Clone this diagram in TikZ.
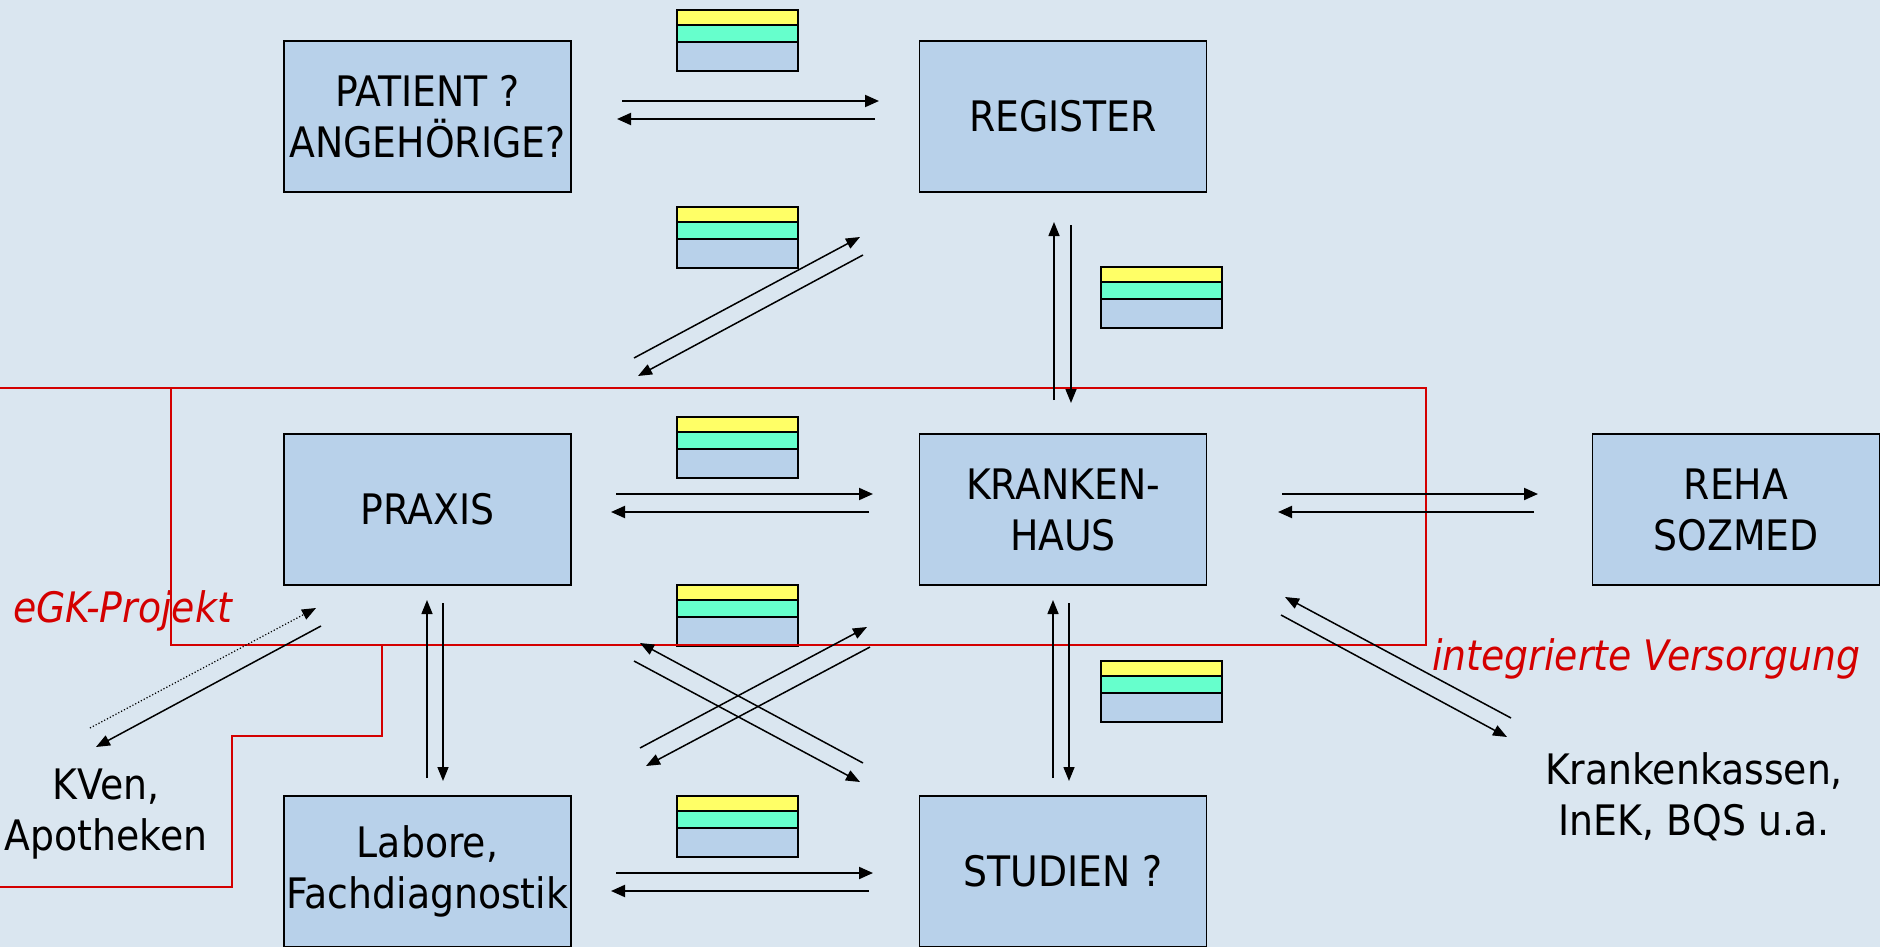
\documentclass[tikz,border=0pt]{standalone}
\usepackage{fontspec}
\setmainfont{DejaVu Sans Condensed}
\usetikzlibrary{arrows.meta}
\definecolor{bg}{HTML}{DAE6F0}
\definecolor{boxfill}{HTML}{B8D1EA}
\definecolor{yel}{HTML}{FFFF66}
\definecolor{grn}{HTML}{66FFCC}
\definecolor{redline}{HTML}{D40000}
\tikzset{
  entity/.style={draw=black,line width=1.5pt,fill=boxfill,minimum width=287pt,minimum height=151pt,inner sep=0pt,align=center,font=\fontsize{42}{51}\selectfont},
  plainlabel/.style={align=center,inner sep=0pt,font=\fontsize{42}{51}\selectfont},
  redlabel/.style={text=redline,inner sep=0pt,font=\fontsize{42}{51}\selectfont\itshape},
  arr/.style={line width=2pt,-{Triangle[length=14pt,width=12pt]}},
  darr/.style={line width=1.5pt,-{Triangle[length=14pt,width=11pt]}},
  dotarr/.style={line width=1.2pt,dotted,-{Triangle[length=14pt,width=11pt]}},
  redpath/.style={draw=redline,line width=2pt},
  datastack/.pic={
    \filldraw[fill=yel,draw=black,line width=2pt] (0,0) rectangle (121,15);
    \filldraw[fill=grn,draw=black,line width=2pt] (0,15) rectangle (121,32);
    \filldraw[fill=boxfill,draw=black,line width=2pt] (0,32) rectangle (121,61);
  }
}
\begin{document}
\begin{tikzpicture}[x=1pt,y=-1pt]
\useasboundingbox (0,0) rectangle (1880,947);
\fill[bg] (0,0) rectangle (1880,947);

% entities
\node[entity] (pat) at (427.5,116.5) {PATIENT ?\\ANGEHÖRIGE?};
\node[entity] (reg) at (1063,116.5) {REGISTER};
\node[entity] (pra) at (427.5,509.5) {PRAXIS};
\node[entity] (kh) at (1063,509.5) {KRANKEN-\\HAUS};
\node[entity] (reha) at (1736,509.5) {REHA\\SOZMED};
\node[entity] (lab) at (427.5,871.5) {Labore,\\Fachdiagnostik};
\node[entity] (stu) at (1063,871.5) {STUDIEN ?};

% data stacks
\pic at (677,10) {datastack};
\pic at (677,207) {datastack};
\pic at (677,417) {datastack};
\pic at (677,585) {datastack};
\pic at (677,796) {datastack};
\pic at (1101,267) {datastack};
\pic at (1101,661) {datastack};

% red boundaries
\draw[redpath] (0,388) -- (1426,388) -- (1426,645) -- (171,645) -- (171,388);
\draw[redpath] (382,645) -- (382,736) -- (232,736) -- (232,887) -- (0,887);

% connector end points
\coordinate (pr1s) at (622,101); \coordinate (pr1e) at (879,101);
\coordinate (pr2s) at (875,119); \coordinate (pr2e) at (617,119);
\coordinate (pk1s) at (616,494); \coordinate (pk1e) at (873,494);
\coordinate (pk2s) at (869,512); \coordinate (pk2e) at (611,512);
\coordinate (ls1s) at (616,873); \coordinate (ls1e) at (873,873);
\coordinate (ls2s) at (869,891); \coordinate (ls2e) at (611,891);
\coordinate (kr1s) at (1282,494); \coordinate (kr1e) at (1538,494);
\coordinate (kr2s) at (1534,512); \coordinate (kr2e) at (1278,512);
\coordinate (rk1s) at (1054,400); \coordinate (rk1e) at (1054,222);
\coordinate (rk2s) at (1071,225); \coordinate (rk2e) at (1071,403);
\coordinate (ks1s) at (1053,778); \coordinate (ks1e) at (1053,600);
\coordinate (ks2s) at (1069,603); \coordinate (ks2e) at (1069,781);
\coordinate (pl1s) at (427,778); \coordinate (pl1e) at (427,600);
\coordinate (pl2s) at (443,603); \coordinate (pl2e) at (443,781);
\coordinate (dg1s) at (634,358); \coordinate (dg1e) at (860,237);
\coordinate (dg2s) at (863,255); \coordinate (dg2e) at (638,376);
\coordinate (cx1s) at (863,763); \coordinate (cx1e) at (640,643);
\coordinate (cx2s) at (634,661); \coordinate (cx2e) at (860,782);
\coordinate (cx3s) at (640,748); \coordinate (cx3e) at (867,627);
\coordinate (cx4s) at (870,647); \coordinate (cx4e) at (646,766);
\coordinate (kv1s) at (90,728);  \coordinate (kv1e) at (316,608);
\coordinate (kv2s) at (321,626); \coordinate (kv2e) at (96,747);
\coordinate (kk1s) at (1511,718); \coordinate (kk1e) at (1285,597);
\coordinate (kk2s) at (1281,615); \coordinate (kk2e) at (1507,737);

% connectors
\draw[arr] (pr1s) -- (pr1e);
\draw[arr] (pr2s) -- (pr2e);
\draw[arr] (pk1s) -- (pk1e);
\draw[arr] (pk2s) -- (pk2e);
\draw[arr] (ls1s) -- (ls1e);
\draw[arr] (ls2s) -- (ls2e);
\draw[arr] (kr1s) -- (kr1e);
\draw[arr] (kr2s) -- (kr2e);
\draw[darr] (rk1s) -- (rk1e);
\draw[darr] (rk2s) -- (rk2e);
\draw[darr] (ks1s) -- (ks1e);
\draw[darr] (ks2s) -- (ks2e);
\draw[darr] (pl1s) -- (pl1e);
\draw[darr] (pl2s) -- (pl2e);
\draw[darr] (dg1s) -- (dg1e);
\draw[darr] (dg2s) -- (dg2e);
\draw[darr] (cx1s) -- (cx1e);
\draw[darr] (cx2s) -- (cx2e);
\draw[darr] (cx3s) -- (cx3e);
\draw[darr] (cx4s) -- (cx4e);
\draw[dotarr] (kv1s) -- (kv1e);
\draw[darr] (kv2s) -- (kv2e);
\draw[darr] (kk1s) -- (kk1e);
\draw[darr] (kk2s) -- (kk2e);

% free labels
\node[plainlabel] (kven) at (106,814) {KVen,\\Apotheken};
\node[plainlabel] (kassen) at (1694,797) {Krankenkassen,\\InEK, BQS u.a.};
\node[redlabel,anchor=base west] (egk) at (13,622) {eGK-Projekt};
\node[redlabel,anchor=base west] (iv) at (1432,670) {integrierte Versorgung};
\end{tikzpicture}
\end{document}
